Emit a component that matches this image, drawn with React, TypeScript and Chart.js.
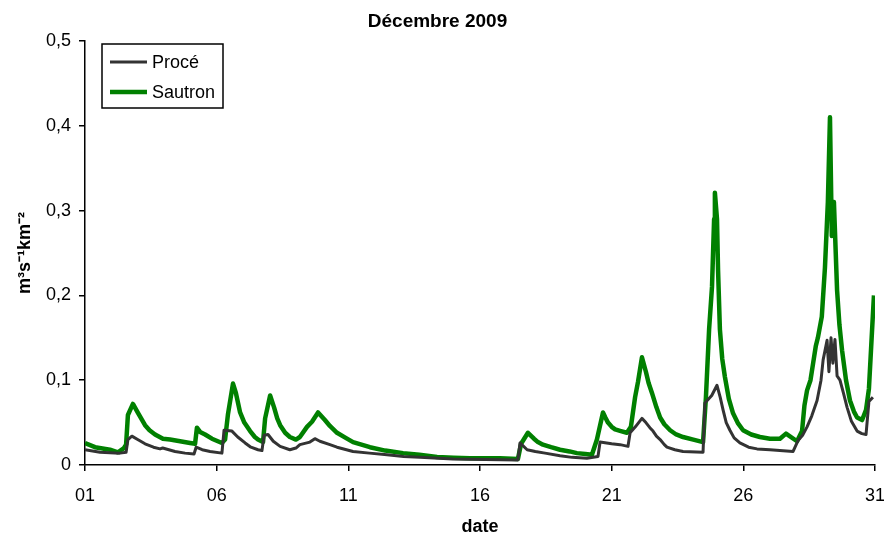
import React, { useEffect, useRef } from "react";
import { Chart, registerables } from "chart.js";

Chart.register(...registerables);

const chartTitle = "Décembre 2009";
const xTitle = "date";
const yTitle = "m³s⁻¹km⁻²";
const tickDays = [1, 6, 11, 16, 21, 26, 31];
const yTickValues = [0, 0.1, 0.2, 0.3, 0.4, 0.5];

const seriesLabels = ["Procé", "Sautron"];

// [day of December, m3/s/km2]
const proceSeries = [
  [1.0, 0.018], [1.57, 0.015], [2.33, 0.014], [2.56, 0.015], [2.63, 0.03], [2.78, 0.034],
  [3.0, 0.03], [3.28, 0.025], [3.6, 0.021], [3.85, 0.019], [3.95, 0.02], [4.42, 0.016],
  [4.8, 0.014], [5.14, 0.013], [5.22, 0.021], [5.45, 0.018], [5.75, 0.016], [6.2, 0.014],
  [6.28, 0.041], [6.58, 0.04], [6.8, 0.033], [7.08, 0.026], [7.3, 0.021], [7.57, 0.018],
  [7.72, 0.017], [7.8, 0.035], [7.95, 0.036], [8.15, 0.028], [8.41, 0.022], [8.78, 0.018],
  [9.01, 0.02], [9.16, 0.024], [9.54, 0.027], [9.73, 0.031], [9.92, 0.028], [10.3, 0.024],
  [10.57, 0.021], [11.18, 0.016], [11.8, 0.014], [12.47, 0.012], [13.1, 0.01], [13.72, 0.009],
  [14.97, 0.007], [16.2, 0.0065], [17.44, 0.006], [17.52, 0.026], [17.79, 0.018], [18.1, 0.016],
  [18.47, 0.014], [19.04, 0.011], [19.5, 0.009], [20.06, 0.008], [20.48, 0.01], [20.56, 0.027],
  [21.0, 0.025], [21.32, 0.024], [21.62, 0.022], [21.7, 0.038], [21.9, 0.045], [22.15, 0.055],
  [22.3, 0.05], [22.45, 0.044], [22.57, 0.04], [22.7, 0.034], [22.84, 0.03], [23.0, 0.024],
  [23.1, 0.021], [23.4, 0.018], [23.71, 0.016], [24.47, 0.015], [24.54, 0.073], [24.8, 0.082],
  [25.0, 0.094], [25.12, 0.08], [25.23, 0.065], [25.35, 0.05], [25.49, 0.041], [25.65, 0.032],
  [25.87, 0.026], [26.2, 0.021], [26.52, 0.019], [27.01, 0.018], [27.89, 0.016], [28.08, 0.029],
  [28.25, 0.035], [28.42, 0.045], [28.6, 0.058], [28.8, 0.076], [28.95, 0.1], [29.03, 0.124],
  [29.18, 0.147], [29.25, 0.11], [29.33, 0.15], [29.4, 0.12], [29.48, 0.148], [29.56, 0.105],
  [29.67, 0.1], [29.8, 0.085], [29.94, 0.068], [30.1, 0.052], [30.32, 0.04], [30.5, 0.037],
  [30.66, 0.036], [30.77, 0.075], [30.92, 0.08],
];

const sautronSeries = [
  [1.0, 0.026], [1.38, 0.021], [1.95, 0.018], [2.25, 0.015], [2.48, 0.02], [2.56, 0.024],
  [2.63, 0.059], [2.82, 0.072], [3.0, 0.062], [3.28, 0.047], [3.45, 0.041], [3.66, 0.036],
  [3.96, 0.031], [4.23, 0.03], [4.61, 0.028], [4.99, 0.026], [5.18, 0.025], [5.25, 0.044],
  [5.37, 0.039], [5.56, 0.036], [5.82, 0.031], [6.2, 0.026], [6.32, 0.03], [6.43, 0.06],
  [6.62, 0.096], [6.73, 0.085], [6.89, 0.062], [7.05, 0.05], [7.27, 0.04], [7.45, 0.033],
  [7.57, 0.03], [7.76, 0.027], [7.84, 0.055], [8.03, 0.082], [8.18, 0.068], [8.3, 0.055],
  [8.41, 0.047], [8.6, 0.038], [8.78, 0.033], [9.01, 0.03], [9.16, 0.033], [9.43, 0.045],
  [9.62, 0.051], [9.85, 0.062], [10.11, 0.053], [10.3, 0.046], [10.57, 0.038], [10.9, 0.032],
  [11.18, 0.027], [11.5, 0.024], [11.82, 0.021], [12.4, 0.017], [13.08, 0.014], [13.7, 0.012],
  [14.37, 0.0094], [15.0, 0.0085], [15.62, 0.008], [16.76, 0.008], [17.44, 0.007], [17.56, 0.025],
  [17.82, 0.038], [18.05, 0.031], [18.2, 0.027], [18.39, 0.024], [18.7, 0.021], [19.04, 0.018],
  [19.4, 0.016], [19.68, 0.014], [20.0, 0.013], [20.25, 0.012], [20.44, 0.03], [20.67, 0.062],
  [20.76, 0.056], [20.86, 0.05], [21.0, 0.045], [21.13, 0.042], [21.35, 0.04], [21.58, 0.038],
  [21.73, 0.045], [21.89, 0.08], [22.0, 0.098], [22.15, 0.127], [22.3, 0.11], [22.4, 0.097],
  [22.53, 0.085], [22.7, 0.068], [22.84, 0.056], [23.0, 0.048], [23.22, 0.041], [23.45, 0.036],
  [23.71, 0.033], [24.1, 0.03], [24.47, 0.027], [24.58, 0.08], [24.7, 0.16], [24.81, 0.21],
  [24.89, 0.29], [24.92, 0.321], [25.0, 0.29], [25.04, 0.23], [25.11, 0.16], [25.2, 0.125],
  [25.3, 0.104], [25.45, 0.078], [25.61, 0.061], [25.8, 0.049], [25.99, 0.041], [26.3, 0.036],
  [26.63, 0.033], [27.01, 0.031], [27.39, 0.031], [27.62, 0.037], [28.04, 0.028], [28.23, 0.04],
  [28.32, 0.07], [28.42, 0.088], [28.55, 0.1], [28.65, 0.12], [28.75, 0.14], [28.83, 0.15],
  [28.98, 0.175], [29.1, 0.233], [29.21, 0.31], [29.29, 0.41], [29.36, 0.27], [29.44, 0.31],
  [29.56, 0.206], [29.65, 0.165], [29.75, 0.135], [29.9, 0.1], [30.05, 0.076], [30.2, 0.063],
  [30.32, 0.056], [30.51, 0.053], [30.66, 0.065], [30.77, 0.09], [30.89, 0.16], [30.96, 0.2],
];

const seriesColors = ["#333333", "#008000"];
const seriesWidths = [3, 4.5];

const FONT = "'Liberation Sans', Arial, Helvetica, sans-serif";

const legendPlugin = {
  id: "boxLegend",
  afterDraw(chart: any) {
    const ctx = chart.ctx;
    const area = chart.chartArea;
    const x0 = area.left + 17;
    const y0 = area.top + 3;
    const w = 121;
    const h = 64;
    ctx.save();
    ctx.fillStyle = "#ffffff";
    ctx.fillRect(x0, y0, w, h);
    ctx.strokeStyle = "#000000";
    ctx.lineWidth = 1.5;
    ctx.strokeRect(x0, y0, w, h);
    ctx.font = "18px " + FONT;
    ctx.textBaseline = "middle";
    ctx.textAlign = "left";
    chart.data.datasets.forEach((ds: any, i: number) => {
      const y = y0 + 18 + i * 30;
      ctx.strokeStyle = ds.borderColor;
      ctx.lineWidth = ds.borderWidth;
      ctx.beginPath();
      ctx.moveTo(x0 + 8, y);
      ctx.lineTo(x0 + 45, y);
      ctx.stroke();
      ctx.fillStyle = "#000000";
      ctx.fillText(ds.label, x0 + 50, y + 1);
    });
    ctx.restore();
  },
};

export default function App() {
  const ref = useRef<HTMLCanvasElement | null>(null);
  useEffect(() => {
    document.body.style.margin = "0";
    const canvas = ref.current;
    if (!canvas) return;
    Chart.defaults.font.family = FONT;
    const makePoints = (s: number[][]) => s.map((p) => ({ x: p[0], y: p[1] }));
    const chart = new Chart(canvas, {
      type: "line",
      data: {
        datasets: [
          {
            label: seriesLabels[0],
            data: makePoints(proceSeries),
            borderColor: seriesColors[0],
            backgroundColor: seriesColors[0],
            borderWidth: seriesWidths[0],
            borderJoinStyle: "round",
            pointRadius: 0,
            tension: 0,
          },
          {
            label: seriesLabels[1],
            data: makePoints(sautronSeries),
            borderColor: seriesColors[1],
            backgroundColor: seriesColors[1],
            borderWidth: seriesWidths[1],
            borderJoinStyle: "round",
            pointRadius: 0,
            tension: 0,
          },
        ],
      },
      options: {
        animation: false,
        responsive: false,
        maintainAspectRatio: false,
        layout: { padding: { left: 0, right: 9, top: 0, bottom: 0 } },
        plugins: {
          legend: { display: false },
          tooltip: { enabled: false },
          title: {
            display: true,
            text: chartTitle,
            color: "#000",
            font: { size: 19, weight: "bold", family: FONT },
            padding: { top: 10, bottom: 8.2 },
          },
        },
        scales: {
          x: {
            type: "linear",
            min: 1,
            max: 31,
            afterBuildTicks: (scale: any) => {
              scale.ticks = tickDays.map((v) => ({ value: v }));
            },
            afterFit: (scale: any) => {
              scale.height = 74;
              scale.paddingLeft = 0;
              scale.paddingRight = 0;
            },
            ticks: {
              color: "#000",
              font: { size: 18 },
              padding: 14,
              maxRotation: 0,
              autoSkip: false,
              callback: (v: any) => String(v).padStart(2, "0"),
            },
            grid: {
              display: true,
              drawOnChartArea: false,
              drawTicks: true,
              tickLength: 6,
              color: "#000",
              lineWidth: 1.5,
            },
            border: { display: true, color: "#000", width: 1.5 },
            title: {
              display: true,
              text: xTitle,
              color: "#000",
              font: { size: 18, weight: "bold" },
              padding: { top: 0, bottom: 1 },
            },
          },
          y: {
            type: "linear",
            min: 0,
            max: 0.5,
            afterBuildTicks: (scale: any) => {
              scale.ticks = yTickValues.map((v) => ({ value: v }));
            },
            afterFit: (scale: any) => {
              scale.width = 85;
            },
            ticks: {
              color: "#000",
              font: { size: 18 },
              padding: 8,
              callback: (v: any) => (Number(v) === 0 ? "0" : Number(v).toFixed(1).replace(".", ",")),
            },
            grid: {
              display: true,
              drawOnChartArea: false,
              drawTicks: true,
              tickLength: 6,
              color: "#000",
              lineWidth: 1.5,
            },
            border: { display: true, color: "#000", width: 1.5 },
            title: {
              display: true,
              text: yTitle,
              color: "#000",
              font: { size: 18, weight: "bold" },
              padding: { top: 14, bottom: 0 },
            },
          },
        },
      },
      plugins: [legendPlugin],
    });
    return () => chart.destroy();
  }, []);
  return (
    <div style={{ width: 884, height: 539, background: "#fff" }}>
      <canvas ref={ref} width={884} height={539} style={{ display: "block" }} />
    </div>
  );
}
